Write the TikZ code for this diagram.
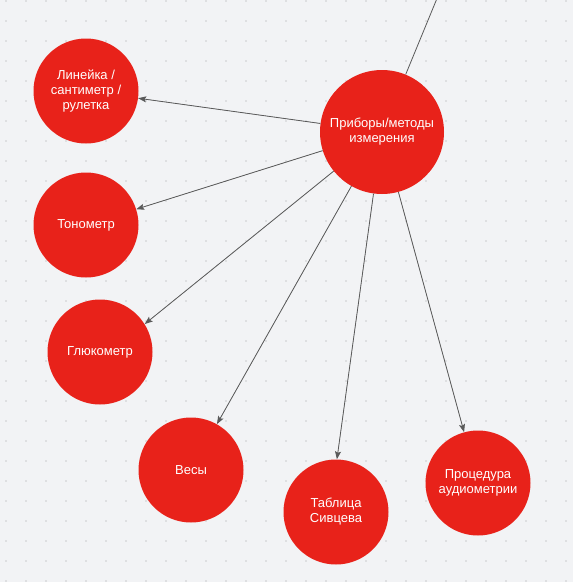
\documentclass[tikz,border=0pt]{standalone}
\usepackage{fontspec}
\setmainfont{Liberation Sans}
\usepackage{xcolor}
\usetikzlibrary{arrows.meta}

\definecolor{latar}{HTML}{F2F3F5}
\definecolor{merah}{HTML}{E8221A}
\definecolor{garis}{HTML}{5A5A5A}

\begin{document}
\begin{tikzpicture}[
    x=1pt, y=-1pt,
    font=\fontsize{13}{15}\selectfont,
    krug/.style={circle, fill=merah, text=white, align=center, inner sep=0pt,
                 minimum size=105pt},
    glavnyj/.style={krug, minimum size=124pt},
    strelka/.style={-{Stealth[length=8pt, width=6pt, inset=1.5pt]}, draw=garis,
                    fill=garis, line width=0.8pt},
    tochka/.style={fill=gray!75}
  ]
    % latar dan grid titik
    \clip (0,0) rectangle (573,582);
    \fill[latar] (0,0) rectangle (573,582);
    \foreach \i in {0,...,28}
      \foreach \j in {0,...,29}
        \fill[tochka] (6+20*\i,1+20*\j) circle (0.65pt);

    \node[glavnyj] (pribory) at (382,132) {Приборы/методы\\измерения};
    \node[krug] (linejka) at (86,91) {Линейка /\\сантиметр /\\рулетка};
    \node[krug] (tonometr) at (86,225) {Тонометр};
    \node[krug] (gljukometr) at (100,352) {Глюкометр};
    \node[krug] (vesy) at (191,470) {Весы};
    \node[krug] (tablica) at (336,512) {Таблица\\Сивцева};
    \node[krug] (audio) at (478,483) {Процедура\\аудиометрии};
    \coordinate (verh) at (438,-4);

    \draw[draw=garis, line width=0.8pt] (pribory) -- (verh);
    \draw[strelka] (pribory) -- (linejka);
    \draw[strelka] (pribory) -- (tonometr);
    \draw[strelka] (pribory) -- (gljukometr.32);
    \draw[strelka] (pribory) -- (vesy);
    \draw[strelka] (pribory) -- (tablica.89);
    \draw[strelka] (pribory) -- (audio);
  \end{tikzpicture}
\end{document}
